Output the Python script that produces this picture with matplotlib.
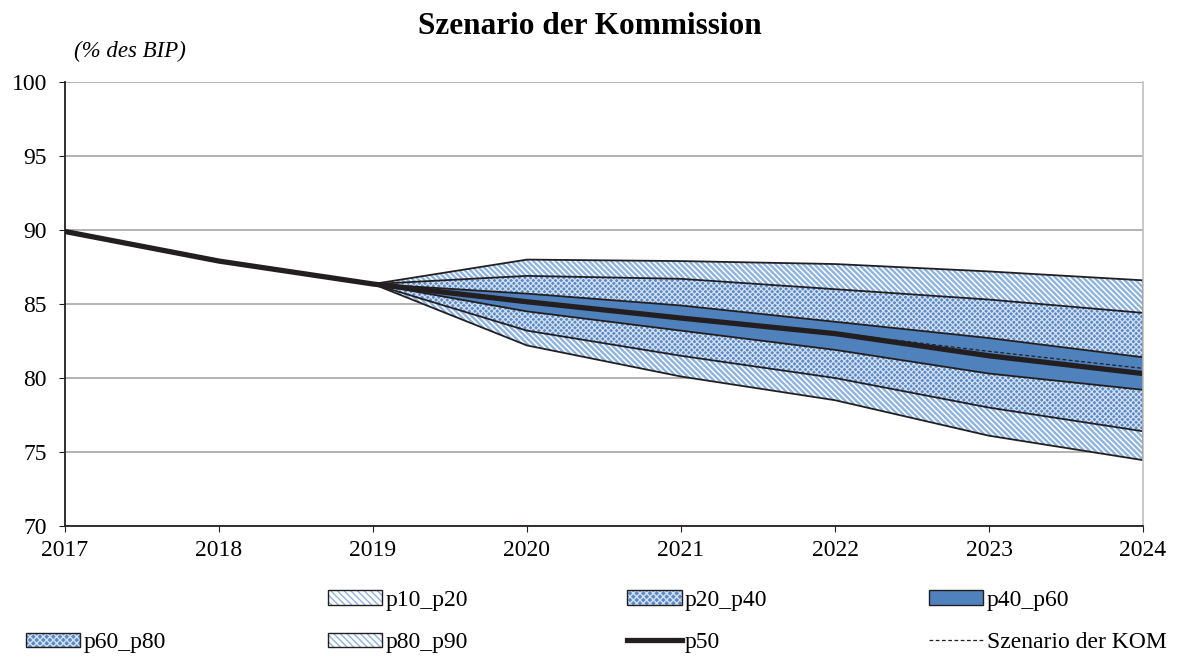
import matplotlib
matplotlib.use("Agg")
import matplotlib.pyplot as plt
from matplotlib.patches import Patch, Rectangle
from matplotlib.lines import Line2D

plt.rcParams["font.family"] = ["Liberation Serif", "DejaVu Serif"]

years = [2017, 2018, 2019, 2020, 2021, 2022, 2023, 2024]
fan_years = [2019, 2020, 2021, 2022, 2023, 2024]

p50 = [89.9, 87.9, 86.35, 85.15, 84.05, 83.0, 81.5, 80.3]
kom = [89.9, 87.9, 86.35, 85.15, 84.05, 83.05, 81.8, 80.65]

p10 = [86.35, 82.2, 80.1, 78.5, 76.1, 74.45]
p20 = [86.35, 83.2, 81.5, 80.0, 78.0, 76.4]
p40 = [86.35, 84.5, 83.2, 81.9, 80.3, 79.2]
p60 = [86.35, 85.7, 84.9, 83.8, 82.7, 81.4]
p80 = [86.35, 86.9, 86.7, 86.0, 85.3, 84.4]
p90 = [86.35, 88.0, 87.9, 87.7, 87.2, 86.6]

BLUE = "#4F81BD"
LIGHT = "#8DB3E2"
DARK = "#231F20"

DIAG = dict(facecolor="white", edgecolor=LIGHT, hatch="\\" * 6, linewidth=0)
CROSS = dict(facecolor="#5B89C5", edgecolor="#D3E1F3", hatch="x" * 6, linewidth=0)
DIAG_LW, CROSS_LW = 1.7, 0.9

fig = plt.figure(figsize=(11.79, 6.59), dpi=100)
ax = fig.add_axes([0.0551, 0.2018, 0.9144, 0.6738])

# fan bands
with plt.rc_context({"hatch.linewidth": DIAG_LW}):
    ax.fill_between(fan_years, p10, p20, **DIAG)
    ax.fill_between(fan_years, p80, p90, **DIAG)
with plt.rc_context({"hatch.linewidth": CROSS_LW}):
    ax.fill_between(fan_years, p20, p40, **CROSS)
    ax.fill_between(fan_years, p60, p80, **CROSS)
ax.fill_between(fan_years, p40, p60, facecolor=BLUE, linewidth=0)

for s in (p10, p20, p40, p60, p80, p90):
    ax.plot(fan_years, s, color=DARK, lw=1.3)
ax.plot([2024, 2024], [p10[-1], p90[-1]], color=DARK, lw=1.3)

ax.plot(years, p50, color=DARK, lw=3.8, solid_capstyle="butt")
ax.plot(years, kom, color=DARK, lw=0.9, ls=(0, (3, 2)))

ax.set_xlim(2017, 2024)
ax.set_ylim(70, 100)
ax.set_xticks(years)
ax.set_yticks(range(70, 101, 5))
ax.yaxis.grid(True, color="#A6A6A6", lw=1.2)
ax.set_axisbelow(True)
ax.tick_params(labelsize=17, length=4, color=DARK, direction="out")
ax.tick_params(axis="y", pad=9)
ax.tick_params(axis="x", pad=6)
for sp in ("top", "right"):
    ax.spines[sp].set_visible(False)
ax.plot([1, 1], [0, 1], transform=ax.transAxes, color="#BFBFBF", lw=1.2, clip_on=False)
for sp in ("left", "bottom"):
    ax.spines[sp].set_color(DARK)
    ax.spines[sp].set_linewidth(1.3)

fig.text(0.5, 0.96, "Szenario der Kommission", ha="center", va="center",
         fontsize=22.5, fontweight="bold")
fig.text(0.063, 0.922, "(% des BIP)", ha="left", va="center",
         fontsize=16.5, style="italic")

# legend: four single-column legends, first slot of column one left empty
def framed(**kw):
    with plt.rc_context({"hatch.linewidth": kw.pop("hlw", 1.0)}):
        fill = Patch(**kw)
    return (fill, Patch(facecolor="none", edgecolor=DARK, lw=1.0))

h_diag = framed(facecolor="white", edgecolor=LIGHT, hatch="\\" * 5, lw=0, hlw=1.5)
h_cross = framed(facecolor="#5B89C5", edgecolor="#D3E1F3", hatch="x" * 5, lw=0, hlw=0.8)
h_solid = Patch(facecolor=BLUE, edgecolor=DARK, lw=1.0)
blank = Rectangle((0, 0), 1, 1, visible=False)

columns = [
    (0.022, [blank, h_cross], ["", "p60_p80"]),
    (0.278, [h_diag, h_diag], ["p10_p20", "p80_p90"]),
    (0.532, [h_cross, Line2D([], [], color=DARK, lw=3.8)], ["p20_p40", "p50"]),
    (0.788, [h_solid, Line2D([], [], color=DARK, lw=0.9, ls=(0, (3, 2)))],
     ["p40_p60", "Szenario der KOM"]),
]
for x0, hs, ls in columns:
    fig.legend(hs, ls, loc="upper left", bbox_to_anchor=(x0, 0.105),
               frameon=False, fontsize=17, handlelength=2.3, handleheight=0.55,
               handletextpad=0.15, labelspacing=0.9, borderaxespad=0,
               borderpad=0)

fig.savefig("out.png", dpi=100)
